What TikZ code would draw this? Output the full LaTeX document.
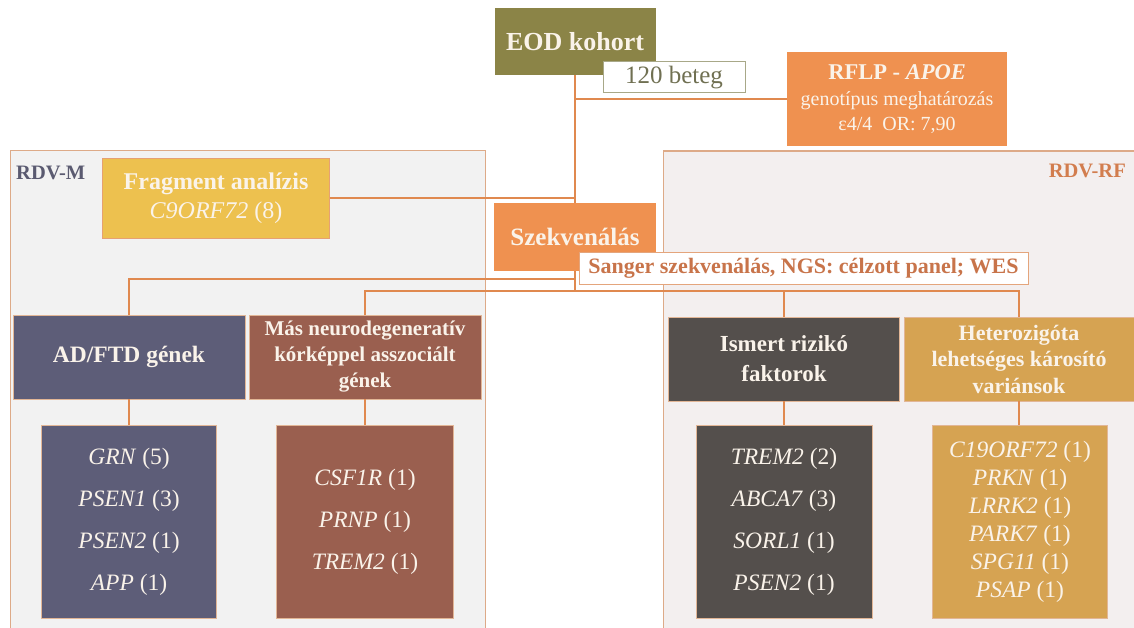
\documentclass[tikz,border=0pt]{standalone}
\usepackage{fontspec}
\setmainfont{Liberation Serif}
\definecolor{eodc}{HTML}{8B8447}
\definecolor{orc}{HTML}{EF9150}
\definecolor{fragc}{HTML}{EDC14F}
\definecolor{adc}{HTML}{5D5D78}
\definecolor{masc}{HTML}{9A5F4F}
\definecolor{isc}{HTML}{544F4C}
\definecolor{hetc}{HTML}{D6A352}
\definecolor{linec}{HTML}{E0894F}
\definecolor{txtw}{HTML}{FAF3EA}
\definecolor{sangt}{HTML}{C8744A}
\definecolor{sangb}{HTML}{E4A57C}
\definecolor{betegt}{HTML}{707052}
\definecolor{betegb}{HTML}{A8A888}
\definecolor{grpb}{HTML}{DDAA88}
\definecolor{grpm}{HTML}{F2F2F2}
\definecolor{grprf}{HTML}{F3EFEF}
\definecolor{rdvmt}{HTML}{5A5A70}
\definecolor{rdvrft}{HTML}{D27D4E}
\definecolor{boxedge}{HTML}{E2B696}
\tikzset{
  box/.style={draw=boxedge, line width=0.8pt, inner sep=0pt, align=center, text=txtw},
  conn/.style={draw=linec, line width=2pt},
  group/.style={draw=grpb, line width=1.2pt, inner sep=0pt, anchor=north west},
  genes/.style={font=\fontsize{23.5}{42}\selectfont},
}
\begin{document}
\begin{tikzpicture}[x=1pt,y=-1pt]
\useasboundingbox (0,0) rectangle (1134,628);
\clip (0,0) rectangle (1134,628);
\fill[white] (0,0) rectangle (1134,628);
% groups
\node[group, fill=grpm, minimum width=475pt, minimum height=490pt] (gm) at (9.5,150) {};
\node[group, fill=grprf, minimum width=490pt, minimum height=490pt] (grf) at (663,150.5) {};
\node[anchor=west, text=rdvmt, font=\fontsize{20.5}{24}\selectfont\bfseries, inner sep=0pt] (lm) at (16,173) {RDV-M};
\node[anchor=east, text=rdvrft, font=\fontsize{20.5}{24}\selectfont\bfseries, inner sep=0pt] (lrf) at (1126,171) {RDV-RF};
% top boxes
\node[box, draw=none, fill=eodc, minimum width=161pt, minimum height=67pt, font=\fontsize{26}{30}\selectfont\bfseries] (eod) at (575,41.5) {EOD kohort};
\node[box, fill=orc, draw=none, minimum width=220pt, minimum height=94pt, font=\fontsize{20}{25.5}\selectfont] (rflp) at (897,99.5) {{\fontsize{22.5}{25.5}\selectfont\bfseries RFLP - \textit{APOE}}\\genotípus meghatározás\\ε4/4\ \ OR: 7,90};
\node[box, fill=fragc, draw=linec!80, minimum width=227pt, minimum height=80pt, font=\fontsize{24}{29}\selectfont] (frag) at (216,198) {\textbf{Fragment analízis}\\\textit{C9ORF72} (8)};
\node[box, fill=orc, draw=none, minimum width=162pt, minimum height=68pt, font=\fontsize{25}{30}\selectfont\bfseries] (szek) at (575,237) {Szekvenálás};
% connectors top
\draw[conn] (eod.south) -- (szek.north);
\draw[conn] (rflp.west) -- (rflp.west -| eod.south);
\draw[conn] (frag.east) -- (frag.east -| eod.south);
\coordinate (j1) at (575,279);
\coordinate (j2) at (575,291);
% row boxes
\node[box, fill=adc, minimum width=232pt, minimum height=84pt, font=\fontsize{23.5}{29}\selectfont\bfseries] (adftd) at (129,357) {AD/FTD gének};
\node[box, fill=masc, minimum width=232pt, minimum height=84pt, font=\fontsize{21}{26}\selectfont\bfseries] (mas) at (365,357) {Más neurodegeneratív\\kórképpel asszociált\\gének};
\node[box, fill=isc, minimum width=231pt, minimum height=84pt, font=\fontsize{23}{30}\selectfont\bfseries] (ismert) at (784,359) {Ismert rizikó\\faktorok};
\node[box, fill=hetc, minimum width=230pt, minimum height=84pt, font=\fontsize{22}{26.5}\selectfont\bfseries] (het) at (1019,359) {Heterozigóta\\lehetséges károsító\\variánsok};
\draw[conn] (szek.south) -- (j2);
\draw[conn] (j1) -| (adftd.north);
\draw[conn] (j2) -| (mas.north);
\draw[conn] (j2) -| (ismert.north);
\draw[conn] (j2) -| (het.north);
% label boxes
\node[box, fill=white, draw=betegb, line width=1pt, minimum width=142pt, minimum height=31pt, text=betegt, font=\fontsize{25}{30}\selectfont] (beteg) at (674,77.5) {120 beteg};
\node[box, fill=white, draw=sangb, line width=1pt, minimum width=449pt, minimum height=32pt, text=sangt, font=\fontsize{22}{26}\selectfont\bfseries] (sanger) at (803.5,268.5) {Sanger szekvenálás, NGS: célzott panel; WES};
% gene boxes
\node[box, fill=adc, minimum width=175pt, minimum height=193pt, genes] (grn) at (129,521.5) {\textit{GRN} (5)\\\textit{PSEN1} (3)\\\textit{PSEN2} (1)\\\textit{APP} (1)};
\node[box, fill=masc, minimum width=177pt, minimum height=193pt, genes] (csf) at (365,521.5) {\textit{CSF1R} (1)\\\textit{PRNP} (1)\\\textit{TREM2} (1)};
\node[box, fill=isc, minimum width=176pt, minimum height=193pt, genes] (trem) at (784,521.5) {\textit{TREM2} (2)\\\textit{ABCA7} (3)\\\textit{SORL1} (1)\\\textit{PSEN2} (1)};
\node[box, fill=hetc, minimum width=175pt, minimum height=193pt, font=\fontsize{23.5}{28}\selectfont] (c19) at (1020,521.5) {\textit{C19ORF72} (1)\\\textit{PRKN} (1)\\\textit{LRRK2} (1)\\\textit{PARK7} (1)\\\textit{SPG11} (1)\\\textit{PSAP} (1)};
\draw[conn] (adftd.south) -- (adftd.south |- grn.north);
\draw[conn] (mas.south) -- (mas.south |- csf.north);
\draw[conn] (ismert.south) -- (ismert.south |- trem.north);
\draw[conn] (het.south) -- (het.south |- c19.north);
\end{tikzpicture}
\end{document}
